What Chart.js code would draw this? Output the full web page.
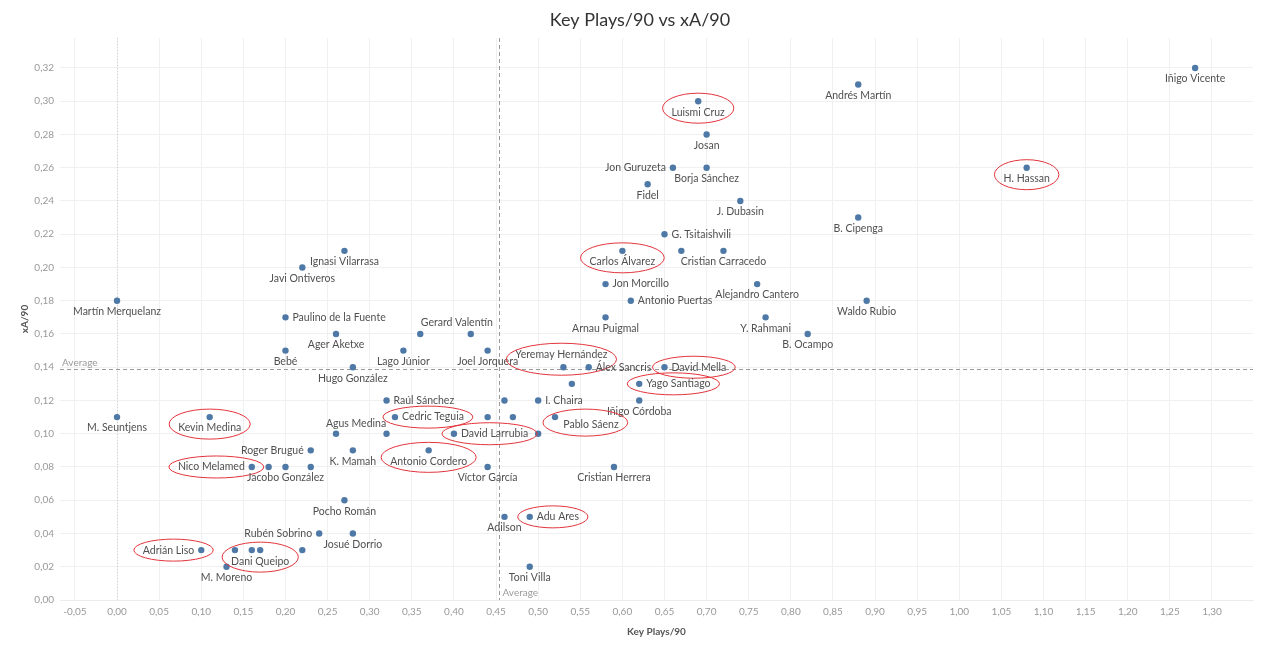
<!DOCTYPE html>
<html>
<head>
<meta charset="utf-8">
<script src="https://cdn.jsdelivr.net/npm/chart.js@4"></script>
<style>
html,body{margin:0;padding:0;background:#fff;}
#wrap{width:1280px;height:656px;}
</style>
</head>
<body>
<div id="wrap"><canvas id="c" width="1280" height="656"></canvas></div>
<script>
// ---- data ----
const chartTitle = 'Key Plays/90 vs xA/90';
const players = [
  "Iñigo Vicente","Andrés Martín","Luismi Cruz","Josan","Jon Guruzeta","Borja Sánchez","H. Hassan","Fidel",
  "J. Dubasin","B. Cipenga","G. Tsitaishvili","Carlos Álvarez",null,"Cristian Carracedo","Ignasi Vilarrasa",
  "Javi Ontiveros","Jon Morcillo","Alejandro Cantero","Martín Merquelanz","Antonio Puertas","Waldo Rubio",
  "Paulino de la Fuente","Arnau Puigmal","Y. Rahmani","Ager Aketxe",null,"Gerard Valentín","B. Ocampo",
  "Bebé","Lago Júnior","Joel Jorquera","Hugo González","Yeremay Hernández","Álex Sancris","David Mella",
  null,"Yago Santiago","Raúl Sánchez",null,"I. Chaira","Iñigo Córdoba","M. Seuntjens","Kevin Medina",
  "Cedric Teguia",null,null,"Pablo Sáenz","Agus Medina",null,"David Larrubia",null,"Roger Brugué",
  "K. Mamah","Antonio Cordero","Nico Melamed",null,"Jacobo González",null,"Víctor García",
  "Cristian Herrera","Pocho Román","Adilson","Adu Ares","Rubén Sobrino","Josué Dorrio","Adrián Liso",
  null,null,"Dani Queipo",null,"M. Moreno","Toni Villa"
];
const keyPlays90 = [
  1.28,0.88,0.69,0.70,0.66,0.70,1.08,0.63,
  0.74,0.88,0.65,0.60,0.67,0.72,0.27,
  0.22,0.58,0.76,0.00,0.61,0.89,
  0.20,0.58,0.77,0.26,0.36,0.42,0.82,
  0.20,0.34,0.44,0.28,0.53,0.56,0.65,
  0.54,0.62,0.32,0.46,0.50,0.62,0.00,0.11,
  0.33,0.44,0.47,0.52,0.26,0.32,0.40,0.50,0.23,
  0.28,0.37,0.16,0.18,0.20,0.23,0.44,
  0.59,0.27,0.46,0.49,0.24,0.28,0.10,
  0.14,0.16,0.17,0.22,0.13,0.49
];
const xA90 = [
  0.32,0.31,0.30,0.28,0.26,0.26,0.26,0.25,
  0.24,0.23,0.22,0.21,0.21,0.21,0.21,
  0.20,0.19,0.19,0.18,0.18,0.18,
  0.17,0.17,0.17,0.16,0.16,0.16,0.16,
  0.15,0.15,0.15,0.14,0.14,0.14,0.14,
  0.13,0.13,0.12,0.12,0.12,0.12,0.11,0.11,
  0.11,0.11,0.11,0.11,0.10,0.10,0.10,0.10,0.09,
  0.09,0.09,0.08,0.08,0.08,0.08,0.08,
  0.08,0.06,0.05,0.05,0.04,0.04,0.03,
  0.03,0.03,0.03,0.03,0.02,0.02
];
const xTickValues = [-0.05,0.00,0.05,0.10,0.15,0.20,0.25,0.30,0.35,0.40,0.45,0.50,0.55,0.60,0.65,0.70,0.75,0.80,0.85,0.90,0.95,1.00,1.05,1.10,1.15,1.20,1.25,1.30];
const yTickValues = [0.00,0.02,0.04,0.06,0.08,0.10,0.12,0.14,0.16,0.18,0.20,0.22,0.24,0.26,0.28,0.30,0.32];
const avgKeyPlays90 = 0.453;
const avgXA90 = 0.139;
const highlighted = ["Luismi Cruz","H. Hassan","Carlos Álvarez","Yeremay Hernández","David Mella","Yago Santiago",
  "Kevin Medina","Cedric Teguia","Pablo Sáenz","David Larrubia","Antonio Cordero","Nico Melamed","Adu Ares",
  "Adrián Liso","Dani Queipo"];

// ---- label placement (style) ----
const labelPlacement = {
  "Jon Guruzeta":"left","Roger Brugué":"left","Nico Melamed":"left","Rubén Sobrino":"left","Adrián Liso":"left",
  "G. Tsitaishvili":"right","Jon Morcillo":"right","Antonio Puertas":"right","Paulino de la Fuente":"right",
  "Álex Sancris":"right","David Mella":"right","Yago Santiago":"right","Raúl Sánchez":"right","I. Chaira":"right",
  "Cedric Teguia":"right","David Larrubia":"right","Adu Ares":"right",
  "Gerard Valentín":{dx:-14,dy:-11,align:"center"},
  "Yeremay Hernández":{dx:-2,dy:-13,align:"center"},
  "Pablo Sáenz":{dx:36,dy:8,align:"center"},
  "Agus Medina":{dx:20,dy:-10,align:"center"}
};
const FONT = "Lato, 'Open Sans', sans-serif";
const fmt = v => Number(v).toFixed(2).replace('.', ',');

const overlay = {
  id:'overlay',
  beforeDatasetsDraw(chart){
    const {ctx, chartArea:a, scales:{x,y}} = chart;
    ctx.save();
    const x0 = x.getPixelForValue(0);
    ctx.strokeStyle = '#d0d0d0'; ctx.lineWidth = 1; ctx.setLineDash([1,2]);
    ctx.beginPath(); ctx.moveTo(Math.round(x0)+0.5, a.top); ctx.lineTo(Math.round(x0)+0.5, a.bottom); ctx.stroke();
    ctx.strokeStyle = '#9a9a9a'; ctx.setLineDash([4,3]);
    const ax = Math.round(x.getPixelForValue(avgKeyPlays90))+0.5;
    const ay = Math.round(y.getPixelForValue(avgXA90))+0.5;
    ctx.beginPath(); ctx.moveTo(ax, a.top); ctx.lineTo(ax, a.bottom); ctx.stroke();
    ctx.beginPath(); ctx.moveTo(a.left, ay); ctx.lineTo(a.right, ay); ctx.stroke();
    ctx.setLineDash([]);
    ctx.fillStyle = '#9a9a9a';
    ctx.font = "10px " + FONT;
    ctx.textAlign = 'left'; ctx.textBaseline = 'middle';
    ctx.fillText('Average', a.left + 2, ay - 7);
    ctx.fillText('Average', ax + 3, a.bottom - 7);
    ctx.restore();
  },
  afterDatasetsDraw(chart){
    const {ctx} = chart;
    const meta = chart.getDatasetMeta(0);
    ctx.save();
    // title
    ctx.font = "18px " + FONT;
    ctx.fillStyle = '#333333';
    ctx.textAlign = 'center'; ctx.textBaseline = 'middle';
    ctx.fillText(chartTitle, 640, 20);
    ctx.font = "10.5px " + FONT;
    meta.data.forEach((pt, i) => {
      const name = players[i];
      if (!name) return;
      let p = labelPlacement[name] || 'below';
      if (p === 'below') p = {dx:0, dy:11, align:'center'};
      else if (p === 'above') p = {dx:0, dy:-12, align:'center'};
      else if (p === 'right') p = {dx:7, dy:0, align:'left'};
      else if (p === 'left') p = {dx:-7, dy:0, align:'right'};
      const tx = pt.x + p.dx, ty = pt.y + p.dy;
      ctx.textAlign = p.align;
      ctx.fillStyle = '#505050';
      ctx.fillText(name, tx, ty);
      if (highlighted.includes(name)) {
        const w = ctx.measureText(name).width;
        let l = p.align === 'left' ? tx : (p.align === 'right' ? tx - w : tx - w/2);
        let r = l + w, t = ty - 6, b = ty + 6;
        l = Math.min(l, pt.x - 3); r = Math.max(r, pt.x + 3);
        t = Math.min(t, pt.y - 3); b = Math.max(b, pt.y + 3);
        const cx = (l + r)/2, cy = (t + b)/2;
        ctx.strokeStyle = '#e3343b'; ctx.lineWidth = 1;
        ctx.beginPath();
        ctx.ellipse(cx, cy, (r - l)/2 + 9, (b - t)/2 + 5, 0, 0, Math.PI*2);
        ctx.stroke();
      }
    });
    ctx.restore();
  }
};

new Chart(document.getElementById('c'), {
  type: 'scatter',
  data: {
    datasets: [{
      data: keyPlays90.map((v, i) => ({x: v, y: xA90[i]})),
      backgroundColor: '#4e79a7',
      borderWidth: 0,
      pointRadius: 3.2,
      pointHoverRadius: 3.2
    }]
  },
  options: {
    responsive: false,
    animation: false,
    devicePixelRatio: 1,
    layout: {padding: {top: 38, left: 0, right: 27, bottom: 14}},
    plugins: {
      legend: {display: false},
      tooltip: {enabled: false},
      title: {display: false}
    },
    scales: {
      x: {
        type: 'linear', min: -0.0677, max: 1.3487,
        afterBuildTicks: s => { s.ticks = xTickValues.map(v => ({value: v})); },
        afterFit: s => { s.height = 42; },
        ticks: {callback: v => fmt(v), color: '#999999', font: {family: FONT, size: 10}, padding: 6, maxRotation: 0, autoSkip: false},
        grid: {color: '#f0f0f0', drawTicks: false},
        border: {display: true, color: '#ececec'},
        title: {display: true, text: 'Key Plays/90', color: '#555555', font: {family: FONT, size: 10, weight: 'bold'}, padding: {top: 4, bottom: 4}}
      },
      y: {
        type: 'linear', min: 0, max: 0.338,
        afterBuildTicks: s => { s.ticks = yTickValues.map(v => ({value: v})); },
        afterFit: s => { s.width = 60; },
        ticks: {callback: v => fmt(v), color: '#999999', font: {family: FONT, size: 10}, padding: 6, autoSkip: false},
        grid: {color: '#f0f0f0', drawTicks: false},
        border: {display: false},
        title: {display: true, text: 'xA/90', color: '#555555', font: {family: FONT, size: 10, weight: 'bold'}, padding: {top: 19, bottom: 4}}
      }
    }
  },
  plugins: [overlay]
});
</script>
</body>
</html>
